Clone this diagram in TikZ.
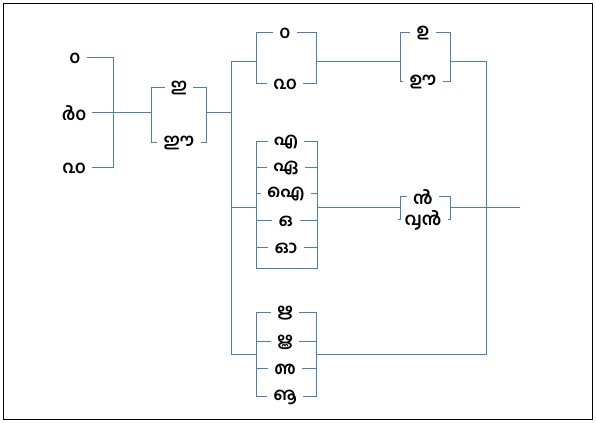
\documentclass[tikz,border=0pt]{standalone}
\usepackage{fontspec}
\newfontfamily\malfont[Script=Malayalam]{Hind Kochi}
\usepackage{tikz}
\definecolor{wireblue}{RGB}{74,126,187}
\tikzset{
	lbl/.style={inner xsep=4.5pt, inner ysep=2pt, font=\malfont\bfseries\fontsize{13}{15}\selectfont},
	wire/.style={draw=wireblue, line width=0.75pt},
}
\begin{document}
\begin{tikzpicture}[x=0.75pt,y=-0.75pt]
	\useasboundingbox (0,0) rectangle (596,423);
	\draw[black, line width=0.75pt] (3.5,3.5) rectangle (592.5,419.5);

	% first choice
	\node[lbl] (l1) at (75, 58)     {൦};
	\node[lbl] (l2) at (74, 113)    {൪൦};
	\node[lbl] (l3) at (74, 168)    {൨൦};
	\coordinate (a1) at (113, 58);
	\coordinate (a3) at (113, 168);
	\coordinate (b2) at (151, 113);

	% second choice
	\node[lbl] (m1) at (179, 88)    {ഇ};
	\node[lbl] (m2) at (179, 143)   {ഈ};
	\coordinate (b1) at (151, 88);
	\coordinate (b3) at (151, 143);
	\coordinate (c1) at (206, 88);
	\coordinate (c2) at (206, 113);
	\coordinate (c3) at (206, 143);
	\coordinate (d0) at (231, 62);
	\coordinate (d2) at (231, 113);
	\coordinate (d3) at (231, 208);
	\coordinate (d4) at (231, 355);

	% upper branch
	\node[lbl] (t1) at (285, 33)    {൦};
	\node[lbl] (t2) at (285, 84)    {൨൦};
	\coordinate (e0) at (256, 62);
	\coordinate (e1) at (256, 33);
	\coordinate (e2) at (256, 84);
	\coordinate (f0) at (316, 62);
	\coordinate (f1) at (316, 33);
	\coordinate (f2) at (316, 84);
	\node[lbl] (r1) at (423, 33)    {ഉ};
	\node[lbl] (r2) at (423, 82)    {ഊ};
	\coordinate (g0) at (400, 62);
	\coordinate (g1) at (400, 33);
	\coordinate (g2) at (400, 82);
	\coordinate (h0) at (450, 62);
	\coordinate (h1) at (450, 33);
	\coordinate (h2) at (450, 82);
	\coordinate (k0) at (486, 62);
	\coordinate (k4) at (486, 355);

	% middle branch
	\node[lbl] (c1n) at (286, 142)  {എ};
	\node[lbl] (c2n) at (286, 168)  {ഏ};
	\node[lbl] (c3n) at (286, 194)  {ഐ};
	\node[lbl] (c4n) at (286, 221)  {ഒ};
	\node[lbl] (c5n) at (286, 248)  {ഓ};
	\coordinate (p0) at (256, 208);
	\coordinate (p1) at (256, 142);
	\coordinate (p6) at (256, 269);
	\coordinate (q0) at (317, 208);
	\coordinate (q1) at (317, 142);
	\coordinate (q6) at (317, 269);
	\node[lbl, inner ysep=0pt] (n1) at (423, 197)   {൯};
	\node[lbl, inner ysep=0pt] (n2) at (423, 220)   {൮൯};
	\coordinate (s0) at (400, 208);
	\coordinate (s1) at (400, 197);
	\coordinate (s2) at (400, 220);
	\coordinate (u0) at (450, 208);
	\coordinate (u1) at (450, 197);
	\coordinate (u2) at (450, 220);
	\coordinate (w0) at (520, 208);

	% lower branch
	\node[lbl] (o1) at (285, 313)   {ഋ};
	\node[lbl] (o2) at (285, 342)   {ൠ};
	\node[lbl] (o3) at (285, 369)   {ഌ};
	\node[lbl] (o4) at (285, 397)   {ൡ};
	\coordinate (v0) at (256, 355);
	\coordinate (v1) at (256, 313);
	\coordinate (v4) at (256, 397);
	\coordinate (z0) at (316, 355);
	\coordinate (z1) at (316, 313);
	\coordinate (z4) at (316, 397);

	\draw[wire] (l1) -- (a1) -- (a3) -- (l3);
	\draw[wire] (l2) -- (b2);
	\draw[wire] (m1) -- (b1) -- (b3) -- (m2);
	\draw[wire] (m1) -- (c1) -- (c3) -- (m2);
	\draw[wire] (c2) -- (d2);
	\draw[wire] (e0) -- (d0) -- (d4) -- (v0);
	\draw[wire] (d3) -- (p0);

	\draw[wire] (t1) -- (e1) -- (e2) -- (t2);
	\draw[wire] (t1) -- (f1) -- (f2) -- (t2);
	\draw[wire] (f0) -- (g0);
	\draw[wire] (r1) -- (g1) -- (g2) -- (r2);
	\draw[wire] (r1) -- (h1) -- (h2) -- (r2);
	\draw[wire] (h0) -- (k0) -- (k4);

	\draw[wire] (c1n) -- (p1) -- (p6) -- (q6) -- (q1) -- (c1n);
	\draw[wire] (c2n) -- (p1 |- c2n);	\draw[wire] (c2n) -- (q1 |- c2n);
	\draw[wire] (c3n) -- (p1 |- c3n);	\draw[wire] (c3n) -- (q1 |- c3n);
	\draw[wire] (c4n) -- (p1 |- c4n);	\draw[wire] (c4n) -- (q1 |- c4n);
	\draw[wire] (c5n) -- (p1 |- c5n);	\draw[wire] (c5n) -- (q1 |- c5n);
	\draw[wire] (q0) -- (s0);
	\draw[wire] (n1) -- (s1) -- (s2) -- (n2);
	\draw[wire] (n1) -- (u1) -- (u2) -- (n2);
	\draw[wire] (u0) -- (w0);

	\draw[wire] (o1) -- (v1) -- (v4) -- (o4);
	\draw[wire] (o1) -- (z1) -- (z4) -- (o4);
	\draw[wire] (o2) -- (v1 |- o2);	\draw[wire] (o2) -- (z1 |- o2);
	\draw[wire] (o3) -- (v1 |- o3);	\draw[wire] (o3) -- (z1 |- o3);
	\draw[wire] (z0) -- (k4);
\end{tikzpicture}
\end{document}
